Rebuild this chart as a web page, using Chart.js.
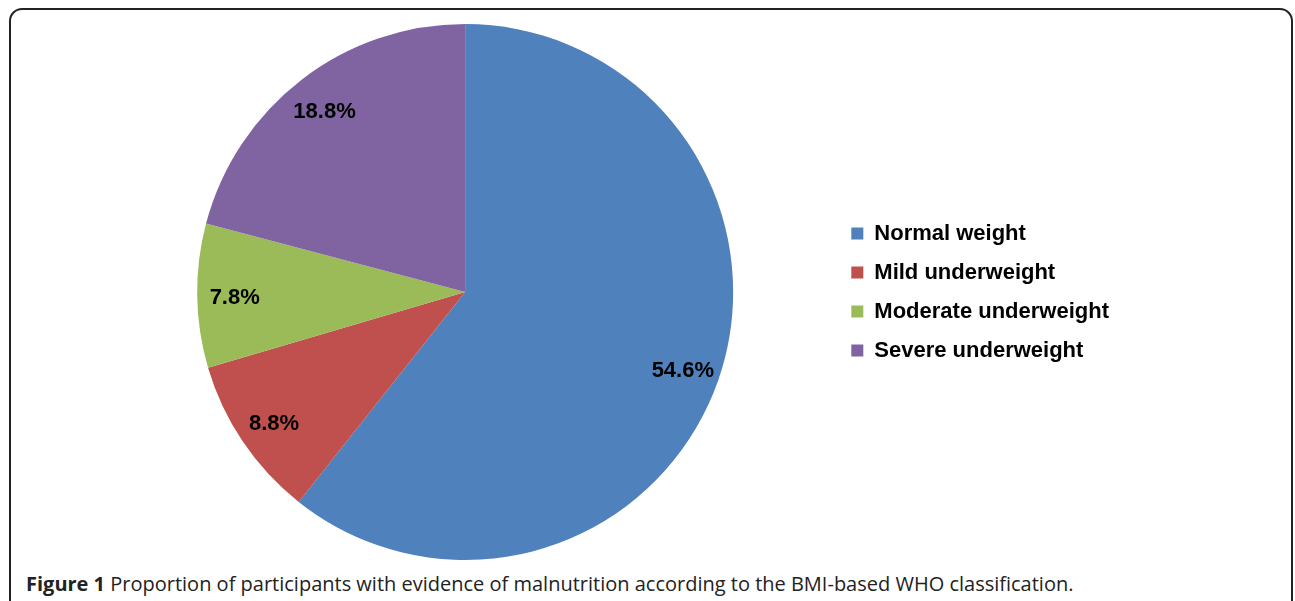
<!DOCTYPE html>
<html>
<head>
<meta charset="utf-8">
<script src="https://cdn.jsdelivr.net/npm/chart.js@4"></script>
<style>
  html, body { margin: 0; padding: 0; background: #fff; }
  body { width: 1295px; height: 601px; position: relative; overflow: hidden; }
  #frame {
    position: absolute; left: 9px; top: 8px; width: 1284px; height: 620px;
    border: 2px solid #222; border-radius: 13px; box-sizing: border-box;
  }
  #wrap { position: absolute; left: 0; top: 0; width: 1295px; height: 570px; }
  #caption {
    position: absolute; left: 26px; top: 574px; white-space: nowrap; line-height: 1;
    font-family: "Open Sans", sans-serif; font-size: 20px; color: #222; font-weight: 500;
  }
  #caption b { font-weight: 700; }
</style>
</head>
<body>
<div id="frame"></div>
<div id="wrap"><canvas id="myChart"></canvas></div>
<div id="caption"><b>Figure 1</b> Proportion of participants with evidence of malnutrition according to the BMI-based WHO classification.</div>
<script>
let labels = ["Normal weight", "Mild underweight", "Moderate underweight", "Severe underweight"];
let values = [54.6, 8.8, 7.8, 18.8];
let colors = ["#4F81BD", "#C0504D", "#9BBB59", "#8064A2"];

// labels inside each slice, along the bisector
const sliceLabels = {
  id: "sliceLabels",
  afterDatasetsDraw(chart) {
    const ctx = chart.ctx;
    const meta = chart.getDatasetMeta(0);
    ctx.save();
    ctx.font = "bold 22px 'Liberation Sans', Arial, sans-serif";
    ctx.fillStyle = "#000";
    ctx.textAlign = "center";
    ctx.textBaseline = "middle";
    meta.data.forEach((arc, i) => {
      const p = arc.getProps(["x", "y", "startAngle", "endAngle", "outerRadius"], true);
      const a = (p.startAngle + p.endAngle) / 2;
      const r = p.outerRadius * 0.86;
      ctx.fillText(values[i].toFixed(1) + "%", p.x + Math.cos(a) * r, p.y + Math.sin(a) * r + 3);
    });
    ctx.restore();
  }
};

document.addEventListener("DOMContentLoaded", function () {
  const data = {
    labels: labels,
    datasets: [
      {
        data: values,
        backgroundColor: colors,
        borderWidth: 0,
      },
    ],
  };

  const config = {
    type: "pie",
    data: data,
    options: {
      responsive: true,
      maintainAspectRatio: false,
      animation: false,
      layout: { padding: { top: 24, bottom: 10, left: 96, right: 176 } },
      plugins: {
        tooltip: { enabled: false },
        legend: {
          position: "right",
          labels: {
            boxWidth: 12,
            boxHeight: 12,
            padding: 17,
            color: "#000",
            font: { family: "'Liberation Sans', Arial, sans-serif", size: 22, weight: "bold" },
          },
        },
      },
    },
    plugins: [sliceLabels],
  };
  const myChart = new Chart(document.getElementById("myChart"), config);
});
</script>
</body>
</html>
